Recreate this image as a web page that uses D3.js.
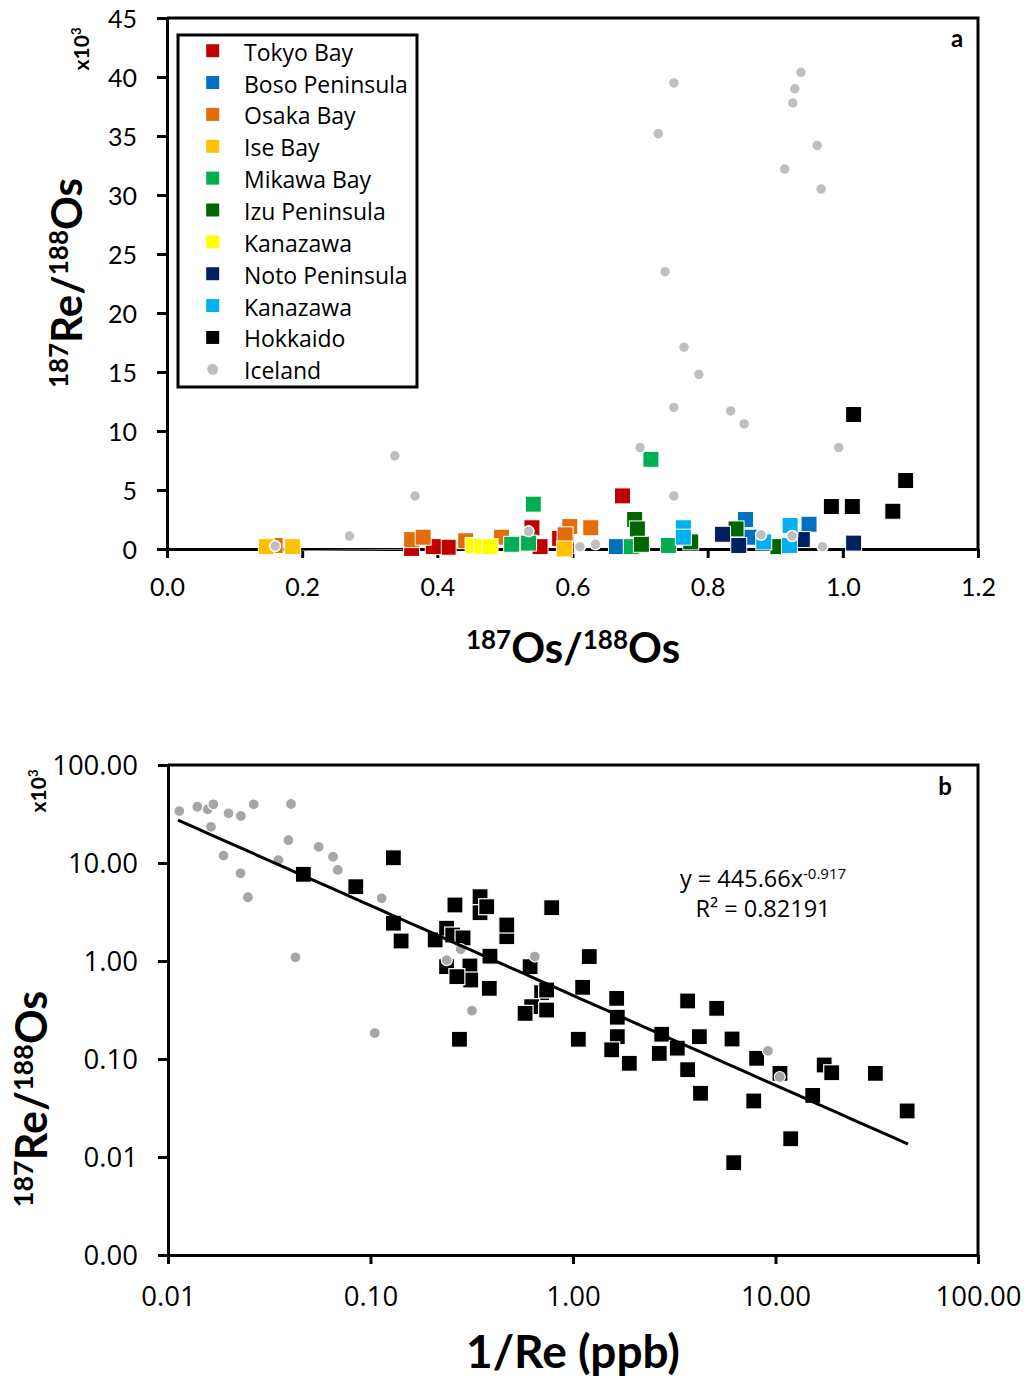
<!DOCTYPE html>
<html><head><meta charset="utf-8">
<script src="https://cdn.jsdelivr.net/npm/d3@7"></script>
<style>body{margin:0;background:#fff}</style>
</head><body><svg id="c" width="1031" height="1380"></svg>
<script>
// ===== Panel a data: [187Os/188Os, 187Re/188Os (x10^3)] =====
const tokyoBay = [[0.674,4.5],[0.540,1.8],[0.416,0.15],[0.394,0.2],[0.362,0.05],[0.552,0.2],[0.581,0.9],[0.591,0.3]];
const bosoPeninsula = [[0.856,2.5],[0.950,2.1],[0.665,0.2],[0.865,1.0]];
const osakaBay = [[0.160,0.3],[0.362,0.8],[0.379,1.0],[0.442,0.7],[0.495,1.0],[0.591,1.3],[0.596,1.9],[0.627,1.8],[0.589,1.2]];
const iseBay = [[0.147,0.2],[0.186,0.2],[0.588,0.0]];
const mikawaBay = [[0.716,7.6],[0.687,0.2],[0.742,0.3],[0.542,3.8],[0.510,0.4],[0.535,0.5]];
const izuPeninsula = [[0.692,2.5],[0.696,1.7],[0.702,0.4],[0.775,0.6],[0.842,1.7],[0.904,0.2]];
const kanazawaYellow = [[0.453,0.3],[0.466,0.2],[0.478,0.2]];
const notoPeninsula = [[0.822,1.25],[0.846,0.3],[1.016,0.5],[0.940,0.8]];
const kanazawaBlue = [[0.764,1.8],[0.764,1.0],[0.883,0.6],[0.922,2.0],[0.921,0.3]];
const hokkaido = [[1.016,11.4],[1.093,5.8],[0.983,3.6],[1.014,3.6],[1.074,3.2]];
const icelandA = [[0.750,39.5],[0.727,35.2],[0.737,23.5],[0.938,40.4],[0.929,39.0],[0.926,37.8],[0.962,34.2],
  [0.914,32.2],[0.968,30.5],[0.765,17.1],[0.787,14.8],[0.750,12.0],[0.834,11.7],[0.854,10.6],[0.700,8.6],
  [0.994,8.6],[0.750,4.5],[0.337,7.9],[0.367,4.5],[0.270,1.1],[0.160,0.25],[0.535,1.5],[0.611,0.2],
  [0.634,0.4],[0.879,1.2],[0.925,1.1],[0.970,0.2]];
const mixLine = [[0.200,-0.14],[0.350,-0.03]];

const seriesNames = ["Tokyo Bay","Boso Peninsula","Osaka Bay","Ise Bay","Mikawa Bay","Izu Peninsula","Kanazawa","Noto Peninsula","Kanazawa","Hokkaido","Iceland"];
const seriesColors = ["#C00000","#0070C0","#E36C09","#FFC000","#00B050","#006600","#FFFF00","#002060","#00B0F0","#000000","#BFBFBF"];
const seriesData = [tokyoBay,bosoPeninsula,osakaBay,iseBay,mikawaBay,izuPeninsula,kanazawaYellow,notoPeninsula,kanazawaBlue,hokkaido,icelandA];

const xTicksA = [0,0.2,0.4,0.6,0.8,1.0,1.2];
const yTicksA = [0,5,10,15,20,25,30,35,40,45];

// ===== Panel b data: [1/Re (ppb), 187Re/188Os (x10^3)] =====
const japanB = [[0.0466,7.67],[0.1297,11.3],[0.0846,5.73],[0.1297,2.43],[0.1416,1.60],[0.2086,1.64],[0.2612,3.73],
  [0.3475,4.53],[0.3475,3.11],[0.375,3.58],[0.785,3.50],[0.2375,2.16],[0.2547,1.84],[0.2864,1.72],[0.471,1.77],
  [0.471,2.33],[0.389,1.12],[0.2375,0.875],[0.3097,0.889],[0.3126,0.640],[0.267,0.692],[0.386,0.526],[0.614,0.875],
  [0.700,0.475],[0.625,0.342],[0.580,0.292],[0.741,0.316],[0.741,0.506],[1.203,1.11],[1.116,0.539],[1.643,0.416],
  [1.655,0.267],[1.655,0.169],[1.553,0.124],[1.062,0.159],[0.275,0.159],[1.897,0.0904],[2.742,0.179],[2.667,0.114],
  [3.273,0.129],[3.683,0.391],[5.124,0.329],[4.207,0.169],[6.10,0.160],[3.683,0.0778],[4.263,0.0447],[8.07,0.1017],
  [7.81,0.0373],[10.52,0.0714],[15.27,0.0425],[17.39,0.0869],[18.95,0.0724],[31.13,0.0714],[44.67,0.0295],
  [11.89,0.01535],[6.22,0.00875]];
const icelandB = [[0.01137,33.9],[0.01396,37.5],[0.0157,35.3],[0.01675,39.7],[0.0163,23.4],[0.0199,32.1],[0.0229,30.2],
  [0.0265,39.7],[0.0188,11.9],[0.0228,7.85],[0.0248,4.47],[0.0405,40.0],[0.0393,17.1],[0.0555,14.6],[0.0653,11.6],
  [0.0689,8.5],[0.0351,10.7],[0.0426,1.09],[0.1135,4.36],[0.279,1.32],[0.238,1.02],[0.648,1.11],[0.317,0.311],
  [0.105,0.184],[9.18,0.121],[10.5,0.0655]];
const fitCoef = 445.66, fitExp = -0.917, fitR2 = "0.82191";
const fitRange = [0.0112, 45.1];
const xTicksB = [0.01,0.1,1,10,100];
const xTickLabelsB = ["0.01","0.10","1.00","10.00","100.00"];
const yTicksB = [100,10,1,0.1,0.01,0.001];
const yTickLabelsB = ["100.00","10.00","1.00","0.10","0.01","0.00"];

// ===== drawing =====
const svg = d3.select("#c");
const tickFont = "Lato, 'Open Sans', sans-serif";
const labelFont = "Lato, 'Open Sans', sans-serif";

function rich(sel, parts, big, small, raise) {
  let up = false;
  parts.forEach(p => {
    const ts = sel.append("tspan").text(p.t).attr("font-size", p.sup ? small : big);
    if (p.sup && !up) { ts.attr("dy", -raise); up = true; }
    else if (!p.sup && up) { ts.attr("dy", raise); up = false; }
  });
}

// ---------- Panel a ----------
const xA = d3.scaleLinear([0,1.2],[167,978]);
const yA = d3.scaleLinear([0,45],[549,18]);
const ga = svg.append("g");

ga.append("path").attr("d", `M${xA(0)},${yA(45)}H${xA(1.2)}V${yA(0)}`).attr("fill","none").attr("stroke","#000").attr("stroke-width",3);

const axLA = ga.append("g").attr("transform",`translate(${xA(0)},0)`)
  .call(d3.axisLeft(yA).tickValues(yTicksA).tickSize(10).tickSizeOuter(0).tickPadding(20).tickFormat(d3.format("d")));
const axBA = ga.append("g").attr("transform",`translate(0,${yA(0)})`)
  .call(d3.axisBottom(xA).tickValues(xTicksA).tickSize(9).tickSizeOuter(0).tickPadding(20).tickFormat(d3.format(".1f")));
[axLA, axBA].forEach(a => {
  a.select(".domain").attr("stroke-width",3).attr("stroke","#000");
  a.selectAll(".tick line").attr("stroke-width",3).attr("stroke","#000");
  a.selectAll(".tick text").attr("font-family",tickFont).attr("font-size",25).attr("fill","#000");
});
axLA.selectAll(".tick text").attr("dy","0.36em");
axBA.selectAll(".tick text").attr("dy","0.71em");

ga.append("path").datum(mixLine).attr("d", d3.line().x(d=>xA(d[0])).y(d=>yA(d[1])))
  .attr("fill","none").attr("stroke","#888").attr("stroke-width",1);

const sqA = 16;
seriesData.forEach((data, i) => {
  const g = ga.append("g");
  if (seriesNames[i] === "Iceland") {
    g.selectAll("circle").data(data).join("circle")
      .attr("cx", d=>xA(d[0])).attr("cy", d=>yA(d[1])).attr("r", 5.5)
      .attr("fill", seriesColors[i]).attr("stroke","#fff").attr("stroke-width",1.5);
  } else {
    g.selectAll("rect").data(data).join("rect")
      .attr("x", d=>xA(d[0]) - sqA/2).attr("y", d=>yA(d[1]) - sqA/2)
      .attr("width", sqA).attr("height", sqA)
      .attr("fill", seriesColors[i]).attr("stroke","#fff").attr("stroke-width",1);
  }
});

const lg = ga.append("g");
lg.append("rect").attr("x",178).attr("y",35).attr("width",239).attr("height",352)
  .attr("fill","#fff").attr("stroke","#000").attr("stroke-width",3);
seriesNames.forEach((n,i) => {
  const cy = 50.7 + i*31.86;
  if (n === "Iceland") {
    lg.append("circle").attr("cx",212.7).attr("cy",cy).attr("r",5.5).attr("fill",seriesColors[i]);
  } else {
    lg.append("rect").attr("x",212.7-6.5).attr("y",cy-6.5).attr("width",13).attr("height",13).attr("fill",seriesColors[i]);
  }
  lg.append("text").attr("x",244).attr("y",cy+10).text(n)
    .attr("font-family","'Open Sans', sans-serif").attr("font-size",23).attr("fill","#000");
});

ga.append("text").attr("x",957).attr("y",47).attr("text-anchor","middle").text("a")
  .attr("font-family",labelFont).attr("font-weight","bold").attr("font-size",24);

const tXa = ga.append("text").attr("x",573).attr("y",663).attr("text-anchor","middle")
  .attr("font-family",labelFont).attr("font-weight","bold");
rich(tXa, [{t:"187",sup:true},{t:"Os/"},{t:"188",sup:true},{t:"Os"}], 42, 26, 14);
const tYa = ga.append("text").attr("transform","translate(82,283) rotate(-90)").attr("text-anchor","middle")
  .attr("font-family",labelFont).attr("font-weight","bold");
rich(tYa, [{t:"187",sup:true},{t:"Re/"},{t:"188",sup:true},{t:"Os"}], 42, 26, 14);
const tKa = ga.append("text").attr("transform","translate(89,49) rotate(-90)").attr("text-anchor","middle")
  .attr("font-family",labelFont).attr("font-weight","bold");
rich(tKa, [{t:"x10"},{t:"3",sup:true}], 21, 13, 8);

// ---------- Panel b ----------
const xB = d3.scaleLog([0.01,100],[168,978]);
const yB = d3.scaleLog([0.001,100],[1255,765]);
const gb = svg.append("g");

gb.append("path").attr("d", `M${xB(0.01)},${yB(100)}H${xB(100)}V${yB(0.001)}`).attr("fill","none").attr("stroke","#000").attr("stroke-width",3);

const axLB = gb.append("g").attr("transform",`translate(${xB(0.01)},0)`)
  .call(d3.axisLeft(yB).tickValues(yTicksB).tickSize(10).tickSizeOuter(0).tickPadding(20).tickFormat((d,i)=>yTickLabelsB[i]));
const axBB = gb.append("g").attr("transform",`translate(0,${yB(0.001)})`)
  .call(d3.axisBottom(xB).tickValues(xTicksB).tickSize(9).tickSizeOuter(0).tickPadding(22).tickFormat((d,i)=>xTickLabelsB[i]));
[axLB, axBB].forEach(a => {
  a.select(".domain").attr("stroke-width",3).attr("stroke","#000");
  a.selectAll(".tick line").attr("stroke-width",3).attr("stroke","#000");
  a.selectAll(".tick text").attr("font-family","'Open Sans', sans-serif").attr("font-size",27.5).attr("fill","#000");
});
axLB.selectAll(".tick text").attr("dy","0.36em");
axBB.selectAll(".tick text").attr("dy","0.71em");

const sqB = 16;
gb.append("g").selectAll("rect").data(japanB).join("rect")
  .attr("x", d=>xB(d[0]) - sqB/2).attr("y", d=>yB(d[1]) - sqB/2)
  .attr("width", sqB).attr("height", sqB)
  .attr("fill","#000").attr("stroke","#fff").attr("stroke-width",1.2);
gb.append("g").selectAll("circle").data(icelandB).join("circle")
  .attr("cx", d=>xB(d[0])).attr("cy", d=>yB(d[1])).attr("r", 5.5)
  .attr("fill","#A6A6A6").attr("stroke","#fff").attr("stroke-width",1.2);

const fitPts = d3.range(0, 41).map(k => {
  const lx = Math.log10(fitRange[0]) + k/40*(Math.log10(fitRange[1]) - Math.log10(fitRange[0]));
  const x = Math.pow(10, lx);
  return [x, fitCoef * Math.pow(x, fitExp) / 1000];
});
gb.append("path").datum(fitPts).attr("d", d3.line().x(d=>xB(d[0])).y(d=>yB(d[1])))
  .attr("fill","none").attr("stroke","#000").attr("stroke-width",3);

gb.append("text").attr("x",945).attr("y",795).attr("text-anchor","middle").text("b")
  .attr("font-family",labelFont).attr("font-weight","bold").attr("font-size",24);

const eq = gb.append("text").attr("x",763).attr("y",887).attr("text-anchor","middle")
  .attr("font-family","'Open Sans', sans-serif").attr("fill","#000");
rich(eq, [{t:"y = " + fitCoef + "x"},{t:String(fitExp),sup:true}], 23.5, 15, 8);
gb.append("text").attr("x",763).attr("y",917).attr("text-anchor","middle")
  .attr("font-family","'Open Sans', sans-serif").attr("font-size",23.5).text("R² = " + fitR2);

gb.append("text").attr("x",573).attr("y",1368).attr("text-anchor","middle")
  .attr("font-family",labelFont).attr("font-weight","bold").attr("font-size",46).text("1/Re (ppb)");
const tYb = gb.append("text").attr("transform","translate(47,1099) rotate(-90)").attr("text-anchor","middle")
  .attr("font-family",labelFont).attr("font-weight","bold");
rich(tYb, [{t:"187",sup:true},{t:"Re/"},{t:"188",sup:true},{t:"Os"}], 43, 27, 14);
const tKb = gb.append("text").attr("transform","translate(46,791) rotate(-90)").attr("text-anchor","middle")
  .attr("font-family",labelFont).attr("font-weight","bold");
rich(tKb, [{t:"x10"},{t:"3",sup:true}], 21, 13, 8);
</script></body></html>
